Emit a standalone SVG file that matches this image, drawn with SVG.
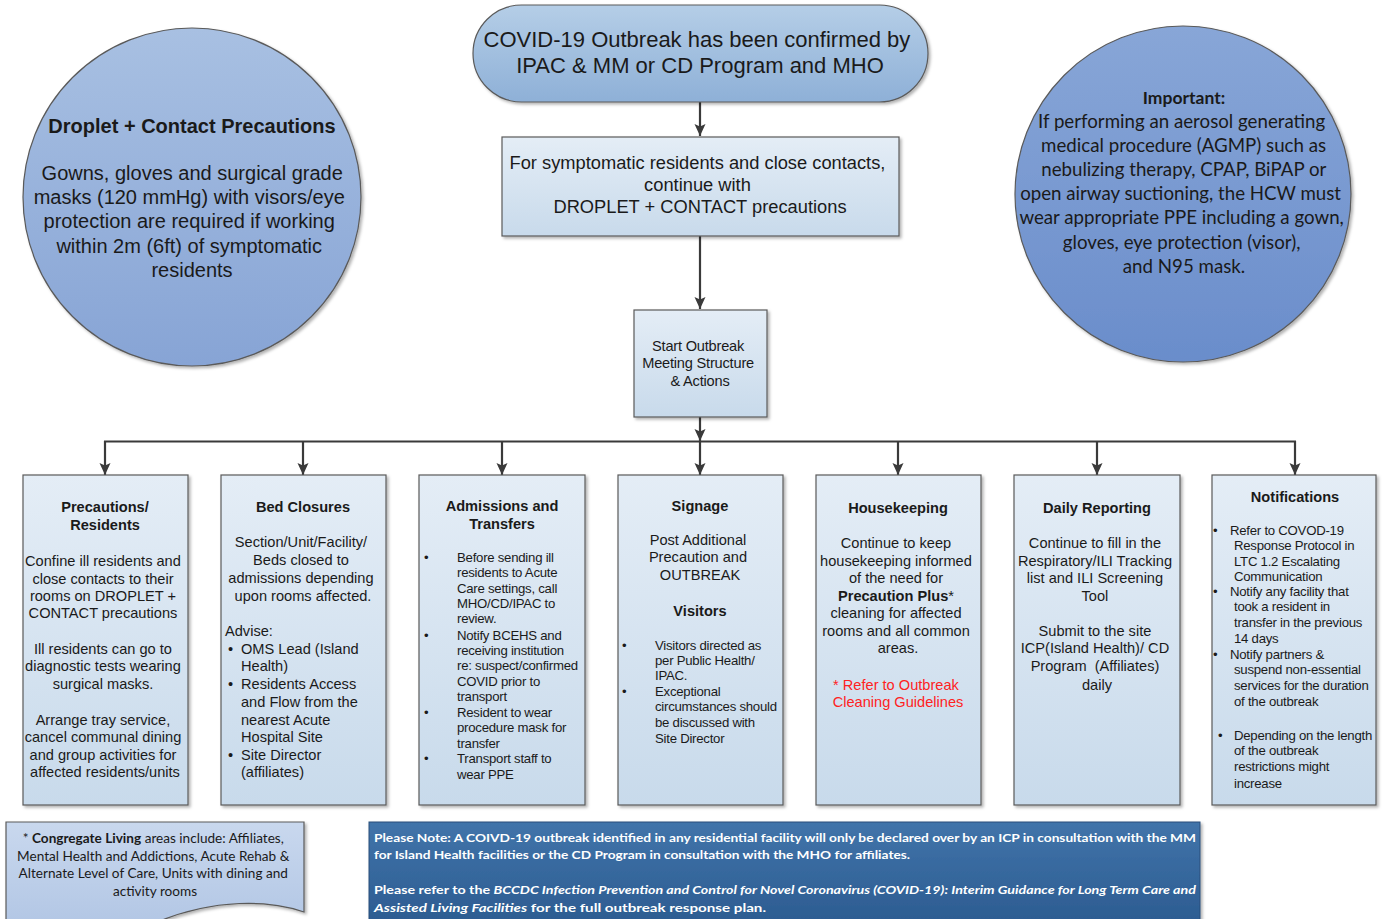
<svg xmlns="http://www.w3.org/2000/svg" width="1385" height="919" viewBox="0 0 1385 919">
<defs>
<linearGradient id="gCircL" x1="0" y1="0" x2="0" y2="1"><stop offset="0" stop-color="#a8c0e2"/><stop offset="1" stop-color="#87a4d5"/></linearGradient>
<linearGradient id="gCircR" x1="0" y1="0" x2="0" y2="1"><stop offset="0" stop-color="#88a6d7"/><stop offset="1" stop-color="#6a8dcb"/></linearGradient>
<linearGradient id="gStad" x1="0" y1="0" x2="0" y2="1"><stop offset="0" stop-color="#b5cee7"/><stop offset="1" stop-color="#8eb0d7"/></linearGradient>
<linearGradient id="gBox" x1="0" y1="0" x2="0" y2="1"><stop offset="0" stop-color="#e4edf6"/><stop offset="1" stop-color="#c8daeb"/></linearGradient>
<linearGradient id="gNote" x1="0" y1="0" x2="0" y2="1"><stop offset="0" stop-color="#4174aa"/><stop offset="1" stop-color="#2c5c91"/></linearGradient>
<linearGradient id="gDoc" x1="0" y1="0" x2="0" y2="1"><stop offset="0" stop-color="#c9d8ee"/><stop offset="1" stop-color="#b3c7e5"/></linearGradient>
<filter id="sh" x="-10%" y="-10%" width="120%" height="120%"><feDropShadow dx="2" dy="2" stdDeviation="1.5" flood-color="#000" flood-opacity="0.3"/></filter>
<marker id="arr" markerUnits="userSpaceOnUse" markerWidth="12" markerHeight="12" viewBox="0 0 12 12" refX="12" refY="6" orient="auto"><path d="M0,0.5 L12,6 L0,11.5 L2.5,6 z" fill="#3a3a3a"/></marker>
<style>
.shape{stroke:#5a5a5a;stroke-width:1.2}
.a{font-family:"Liberation Sans",Arial,sans-serif;fill:#1a1a1a}
.c{text-anchor:middle}
.b{font-weight:bold}
.f14{font-size:14.6px}
.f12{font-size:13.2px;letter-spacing:-0.25px}
.f125{font-size:13.2px;letter-spacing:-0.25px}
.cal{font-family:Lato,"Liberation Sans",sans-serif;fill:#1a1a1a}
.conn{stroke:#3a3a3a;stroke-width:2.2;fill:none}
.red{fill:#ff2222}
.wt{font-family:Lato,"Liberation Sans",sans-serif;font-weight:bold;font-size:12px;fill:#ffffff}
</style>
</defs>
<rect width="1385" height="919" fill="#ffffff"/>

<g id="connectors">
<path class="conn" d="M700,102 V136" marker-end="url(#arr)"/>
<path class="conn" d="M700,236 V309" marker-end="url(#arr)"/>
<path class="conn" d="M700,417 V441" marker-end="url(#arr)"/>
<path class="conn" d="M104,441.5 H1296"/>
<path class="conn" d="M105,441 V475" marker-end="url(#arr)"/>
<path class="conn" d="M303,441 V475" marker-end="url(#arr)"/>
<path class="conn" d="M502,441 V475" marker-end="url(#arr)"/>
<path class="conn" d="M700,441 V475" marker-end="url(#arr)"/>
<path class="conn" d="M898,441 V475" marker-end="url(#arr)"/>
<path class="conn" d="M1097,441 V475" marker-end="url(#arr)"/>
<path class="conn" d="M1295,441 V475" marker-end="url(#arr)"/>
</g>

<g id="circle-droplet">
<circle class="shape" cx="192" cy="197" r="169" fill="url(#gCircL)" filter="url(#sh)"/>
<text class="a c b" x="192" y="133" font-size="20">Droplet + Contact Precautions</text>
<text class="a c" font-size="20">
<tspan x="195" y="180">Gowns, gloves and surgical grade</tspan>
<tspan x="192" y="204">masks (120 mmHg) with visors/eye</tspan>
<tspan x="192" y="228">protection are required if working</tspan>
<tspan x="192" y="253">within 2m (6ft) of symptomatic</tspan>
<tspan x="192" y="277">residents</tspan>
</text>
</g>

<g id="circle-important">
<circle class="shape" cx="1183" cy="194" r="168" fill="url(#gCircR)" filter="url(#sh)"/>
<text class="cal c b" x="1184" y="104" font-size="17.5">Important:</text>
<text class="cal c" font-size="18.7">
<tspan x="1184" y="128">If performing an aerosol generating</tspan>
<tspan x="1186" y="152">medical procedure (AGMP) such as</tspan>
<tspan x="1186" y="176">nebulizing therapy, CPAP, BiPAP or</tspan>
<tspan x="1183" y="200">open airway suctioning, the HCW must</tspan>
<tspan x="1184" y="224">wear appropriate PPE including a gown,</tspan>
<tspan x="1184" y="249">gloves, eye protection (visor),</tspan>
<tspan x="1184" y="273">and N95 mask.</tspan>
</text>
</g>

<g id="node-confirmed">
<rect class="shape" x="473" y="5" width="455" height="97" rx="48.5" fill="url(#gStad)" filter="url(#sh)"/>
<text class="a c" font-size="22">
<tspan x="700" y="47">COVID-19 Outbreak has been confirmed by</tspan>
<tspan x="700" y="73">IPAC &amp; MM or CD Program and MHO</tspan>
</text>
</g>

<g id="node-continue">
<rect class="shape" x="502" y="137" width="397" height="99" fill="url(#gBox)" filter="url(#sh)"/>
<text class="a c" font-size="18.3">
<tspan x="700" y="169">For symptomatic residents and close contacts,</tspan>
<tspan x="700" y="191">continue with</tspan>
<tspan x="700" y="213">DROPLET + CONTACT precautions</tspan>
</text>
</g>

<g id="node-start">
<rect class="shape" x="634" y="310" width="133" height="107" fill="url(#gBox)" filter="url(#sh)"/>
<text class="a c" font-size="14.6" letter-spacing="-0.2">
<tspan x="700" y="351">Start Outbreak</tspan>
<tspan x="700" y="368">Meeting Structure</tspan>
<tspan x="700" y="386">&amp; Actions</tspan>
</text>
</g>

<g id="col-precautions">
<rect class="shape" x="23" y="475" width="165" height="330" fill="url(#gBox)" filter="url(#sh)"/>
<text class="a c b f14"><tspan x="105" y="512">Precautions/</tspan><tspan x="105" y="530">Residents</tspan></text>
<text class="a c f14">
<tspan x="105" y="566">Confine ill residents and</tspan>
<tspan x="105" y="584">close contacts to their</tspan>
<tspan x="105" y="601">rooms on DROPLET +</tspan>
<tspan x="105" y="618">CONTACT precautions</tspan>
<tspan x="105" y="654">Ill residents can go to</tspan>
<tspan x="105" y="671">diagnostic tests wearing</tspan>
<tspan x="105" y="689">surgical masks.</tspan>
<tspan x="105" y="725">Arrange tray service,</tspan>
<tspan x="105" y="742">cancel communal dining</tspan>
<tspan x="105" y="760">and group activities for</tspan>
<tspan x="105" y="777">affected residents/units</tspan>
</text>
</g>

<g id="col-bed">
<rect class="shape" x="221" y="475" width="165" height="330" fill="url(#gBox)" filter="url(#sh)"/>
<text class="a c b f14" x="303" y="512">Bed Closures</text>
<text class="a c f14">
<tspan x="303" y="547">Section/Unit/Facility/</tspan>
<tspan x="303" y="565">Beds closed to</tspan>
<tspan x="303" y="583">admissions depending</tspan>
<tspan x="303" y="601">upon rooms affected.</tspan>
</text>
<text class="a f14">
<tspan x="225" y="636">Advise:</tspan>
<tspan x="228" y="654">•</tspan><tspan x="241" y="654">OMS Lead (Island</tspan>
<tspan x="241" y="671">Health)</tspan>
<tspan x="228" y="689">•</tspan><tspan x="241" y="689">Residents Access</tspan>
<tspan x="241" y="707">and Flow from the</tspan>
<tspan x="241" y="725">nearest Acute</tspan>
<tspan x="241" y="742">Hospital Site</tspan>
<tspan x="228" y="760">•</tspan><tspan x="241" y="760">Site Director</tspan>
<tspan x="241" y="777">(affiliates)</tspan>
</text>
</g>

<g id="col-admissions">
<rect class="shape" x="419" y="475" width="166" height="330" fill="url(#gBox)" filter="url(#sh)"/>
<text class="a c b f14"><tspan x="502" y="511">Admissions and</tspan><tspan x="502" y="529">Transfers</tspan></text>
<text class="a f12">
<tspan x="424" y="562">•</tspan><tspan x="457" y="562">Before sending ill</tspan>
<tspan x="457" y="577">residents to Acute</tspan>
<tspan x="457" y="593">Care settings, call</tspan>
<tspan x="457" y="608">MHO/CD/IPAC to</tspan>
<tspan x="457" y="623">review.</tspan>
<tspan x="424" y="640">•</tspan><tspan x="457" y="640">Notify BCEHS and</tspan>
<tspan x="457" y="655">receiving institution</tspan>
<tspan x="457" y="670">re: suspect/confirmed</tspan>
<tspan x="457" y="686">COVID prior to</tspan>
<tspan x="457" y="701">transport</tspan>
<tspan x="424" y="717">•</tspan><tspan x="457" y="717">Resident to wear</tspan>
<tspan x="457" y="732">procedure mask for</tspan>
<tspan x="457" y="748">transfer</tspan>
<tspan x="424" y="763">•</tspan><tspan x="457" y="763">Transport staff to</tspan>
<tspan x="457" y="779">wear PPE</tspan>
</text>
</g>

<g id="col-signage">
<rect class="shape" x="618" y="475" width="165" height="330" fill="url(#gBox)" filter="url(#sh)"/>
<text class="a c b f14" x="700" y="511">Signage</text>
<text class="a c f14">
<tspan x="700" y="545">Post Additional</tspan>
<tspan x="700" y="562">Precaution and</tspan>
<tspan x="700" y="580">OUTBREAK</tspan>
</text>
<text class="a c b f14" x="700" y="616">Visitors</text>
<text class="a f125">
<tspan x="622" y="650">•</tspan><tspan x="655" y="650">Visitors directed as</tspan>
<tspan x="655" y="665">per Public Health/</tspan>
<tspan x="655" y="680">IPAC.</tspan>
<tspan x="622" y="696">•</tspan><tspan x="655" y="696">Exceptional</tspan>
<tspan x="655" y="711">circumstances should</tspan>
<tspan x="655" y="727">be discussed with</tspan>
<tspan x="655" y="743">Site Director</tspan>
</text>
</g>

<g id="col-housekeeping">
<rect class="shape" x="816" y="475" width="165" height="330" fill="url(#gBox)" filter="url(#sh)"/>
<text class="a c b f14" x="898" y="513">Housekeeping</text>
<text class="a c f14">
<tspan x="898" y="548">Continue to keep</tspan>
<tspan x="898" y="566">housekeeping informed</tspan>
<tspan x="898" y="583">of the need for</tspan>
<tspan x="898" y="601"><tspan font-weight="bold">Precaution Plus</tspan>*</tspan>
<tspan x="898" y="618">cleaning for affected</tspan>
<tspan x="898" y="636">rooms and all common</tspan>
<tspan x="898" y="653">areas.</tspan>
</text>
<text class="a c f14 red">
<tspan x="898" y="690">* Refer to Outbreak</tspan>
<tspan x="898" y="707">Cleaning Guidelines</tspan>
</text>
</g>

<g id="col-daily">
<rect class="shape" x="1014" y="475" width="166" height="330" fill="url(#gBox)" filter="url(#sh)"/>
<text class="a c b f14" x="1097" y="513">Daily Reporting</text>
<text class="a c f14">
<tspan x="1097" y="548">Continue to fill in the</tspan>
<tspan x="1097" y="566">Respiratory/ILI Tracking</tspan>
<tspan x="1097" y="583">list and ILI Screening</tspan>
<tspan x="1097" y="601">Tool</tspan>
<tspan x="1097" y="636">Submit to the site</tspan>
<tspan x="1097" y="653">ICP(Island Health)/ CD</tspan>
<tspan x="1097" y="671" xml:space="preserve">Program  (Affiliates)</tspan>
<tspan x="1097" y="690">daily</tspan>
</text>
</g>

<g id="col-notifications">
<rect class="shape" x="1212" y="475" width="164" height="330" fill="url(#gBox)" filter="url(#sh)"/>
<text class="a c b f14" x="1295" y="502">Notifications</text>
<text class="a f12">
<tspan x="1213" y="535">•</tspan><tspan x="1230" y="535">Refer to COVOD-19</tspan>
<tspan x="1234" y="550">Response Protocol in</tspan>
<tspan x="1234" y="566">LTC 1.2 Escalating</tspan>
<tspan x="1234" y="581">Communication</tspan>
<tspan x="1213" y="596">•</tspan><tspan x="1230" y="596">Notify any facility that</tspan>
<tspan x="1234" y="611">took a resident in</tspan>
<tspan x="1234" y="627">transfer in the previous</tspan>
<tspan x="1234" y="643">14 days</tspan>
<tspan x="1213" y="659">•</tspan><tspan x="1230" y="659">Notify partners &amp;</tspan>
<tspan x="1234" y="674">suspend non-essential</tspan>
<tspan x="1234" y="690">services for the duration</tspan>
<tspan x="1234" y="706">of the outbreak</tspan>
<tspan x="1218" y="740">•</tspan><tspan x="1234" y="740">Depending on the length</tspan>
<tspan x="1234" y="755">of the outbreak</tspan>
<tspan x="1234" y="771">restrictions might</tspan>
<tspan x="1234" y="788">increase</tspan>
</text>
</g>

<g id="note-congregate">
<path class="shape" d="M6,822 H304 V912 C270,900 215,898 157,922 L6,922 Z" fill="url(#gDoc)" filter="url(#sh)"/>
<text class="cal c" font-size="13.6">
<tspan x="155" y="843">* <tspan font-weight="bold">Congregate Living</tspan> areas include: Affiliates,</tspan>
<tspan x="155" y="861">Mental Health and Addictions, Acute Rehab &amp;</tspan>
<tspan x="155" y="878">Alternate Level of Care, Units with dining and</tspan>
<tspan x="155" y="896">activity rooms</tspan>
</text>
</g>

<g id="note-please">
<rect x="369" y="822" width="831" height="100" fill="url(#gNote)" stroke="#2a4f7a" stroke-width="1" filter="url(#sh)"/>
<text class="wt" x="374" y="842" textLength="822" lengthAdjust="spacingAndGlyphs">Please Note: A COIVD-19 outbreak identified in any residential facility will only be declared over by an ICP in consultation with the MM</text>
<text class="wt" x="374" y="859" textLength="536" lengthAdjust="spacingAndGlyphs">for Island Health facilities or the CD Program in consultation with the MHO for affiliates.</text>
<text class="wt" x="374" y="894" textLength="822" lengthAdjust="spacingAndGlyphs">Please refer to the <tspan font-style="italic">BCCDC Infection Prevention and Control for Novel Coronavirus (COVID-19): Interim Guidance for Long Term Care and</tspan></text>
<text class="wt" x="374" y="912" textLength="392" lengthAdjust="spacingAndGlyphs"><tspan font-style="italic">Assisted Living Facilities</tspan> for the full outbreak response plan.</text>
</g>
</svg>
